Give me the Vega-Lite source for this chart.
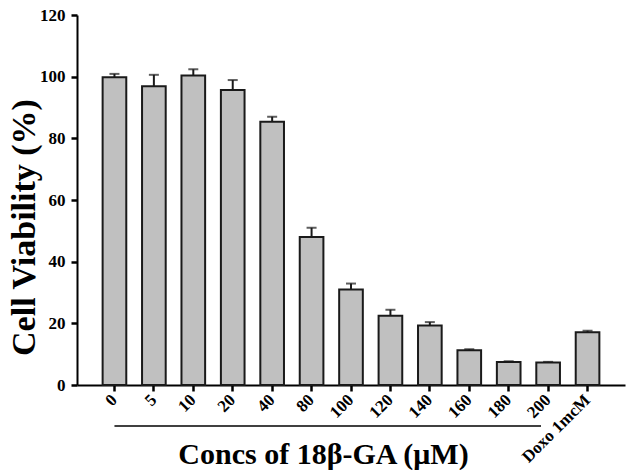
{
  "$schema": "https://vega.github.io/schema/vega-lite/v6.json",
  "width": 548,
  "height": 370,
  "autosize": "none",
  "padding": {"left": 77, "top": 15, "right": 1, "bottom": 85},
  "background": "white",
  "config": {
    "view": {"stroke": null},
    "font": "'Liberation Serif', 'Times New Roman', serif"
  },
  "data": {
    "values": [
      {"conc": "0", "mean": 99.8, "upper": 100.9},
      {"conc": "5", "mean": 96.9, "upper": 100.6},
      {"conc": "10", "mean": 100.4, "upper": 102.4},
      {"conc": "20", "mean": 95.7, "upper": 98.9},
      {"conc": "40", "mean": 85.4, "upper": 87.0},
      {"conc": "80", "mean": 48.0, "upper": 51.0},
      {"conc": "100", "mean": 31.0, "upper": 32.9},
      {"conc": "120", "mean": 22.5, "upper": 24.4},
      {"conc": "140", "mean": 19.3, "upper": 20.4},
      {"conc": "160", "mean": 11.3, "upper": 11.6},
      {"conc": "180", "mean": 7.5, "upper": 7.7},
      {"conc": "200", "mean": 7.3, "upper": 7.5},
      {"conc": "Doxo 1mcM", "mean": 17.1, "upper": 17.6}
    ]
  },
  "encoding": {
    "x": {
      "field": "conc",
      "type": "nominal",
      "sort": null,
      "scale": {"paddingInner": 0.4, "paddingOuter": 0.65},
      "axis": {
        "title": "Concs of 18β-GA (μM)",
        "titleFont": "'Liberation Serif', 'Times New Roman', serif",
        "titleFontSize": 30,
        "titleFontWeight": "bold",
        "titleColor": "black",
        "titleX": 246,
        "titleY": 78,
        "titleBaseline": "alphabetic",
        "titleAnchor": null,
        "labelAngle": -45,
        "labelAlign": "right",
        "labelBaseline": "middle",
        "labelFont": "'Liberation Serif', 'Times New Roman', serif",
        "labelFontSize": 17,
        "labelFontWeight": "bold",
        "labelColor": "black",
        "labelPadding": 6,
        "domainColor": "black",
        "domainWidth": 2,
        "tickColor": "black",
        "tickWidth": 2.5,
        "tickSize": 6
      }
    }
  },
  "layer": [
    {
      "mark": {"type": "bar", "fill": "#c0c0c0", "stroke": "#1a1a1a", "strokeWidth": 2},
      "encoding": {
        "y": {
          "field": "mean",
          "type": "quantitative",
          "scale": {"domain": [0, 120], "nice": false},
          "axis": {
            "values": [0, 20, 40, 60, 80, 100, 120],
            "grid": false,
            "title": "Cell Viability (%)",
            "titleFont": "'Liberation Serif', 'Times New Roman', serif",
            "titleFontSize": 34,
            "titleFontWeight": "bold",
            "titleColor": "black",
            "titleX": -36,
            "titleY": 212,
            "titleAngle": -90,
            "titleBaseline": "bottom",
            "titleAlign": "center",
            "labelFont": "'Liberation Serif', 'Times New Roman', serif",
            "labelFontSize": 17,
            "labelFontWeight": "bold",
            "labelColor": "black",
            "labelPadding": 6,
            "domainColor": "black",
            "domainWidth": 2,
            "tickColor": "black",
            "tickWidth": 2.5,
            "tickSize": 6
          }
        }
      }
    },
    {
      "mark": {"type": "rule", "color": "#1a1a1a", "strokeWidth": 2},
      "encoding": {
        "y": {"field": "mean", "type": "quantitative"},
        "y2": {"field": "upper"}
      }
    },
    {
      "mark": {"type": "tick", "orient": "horizontal", "color": "#1a1a1a", "size": 10, "thickness": 2},
      "encoding": {
        "y": {"field": "upper", "type": "quantitative"}
      }
    },
    {
      "data": {"values": [{"start": "0", "end": "200", "level": -13.3}]},
      "mark": {"type": "rule", "color": "black", "strokeWidth": 1.5},
      "encoding": {
        "x": {"field": "start", "type": "nominal", "sort": null},
        "x2": {"field": "end", "bandPosition": 0.2},
        "y": {"field": "level", "type": "quantitative"}
      }
    }
  ]
}
